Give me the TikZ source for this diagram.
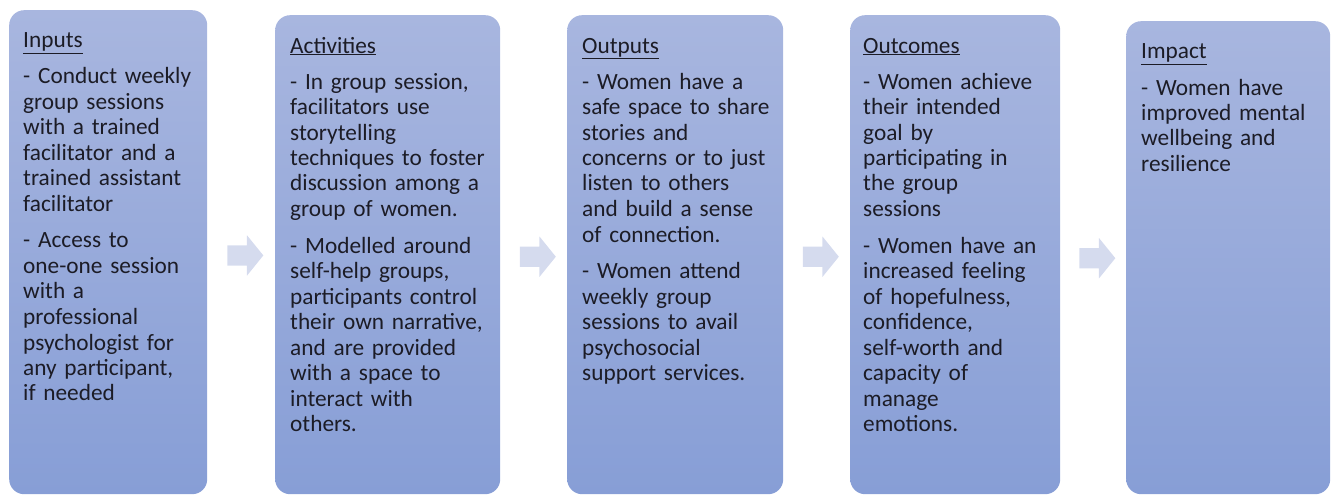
\documentclass[tikz,border=0pt]{standalone}
\usepackage{fontspec}
\setmainfont{Carlito}
\usepackage{tikz}
\usetikzlibrary{positioning,shapes.arrows,calc}

\definecolor{stagetop}{RGB}{168,182,223}
\definecolor{stagebottom}{RGB}{135,158,214}
\definecolor{flowarrow}{RGB}{213,219,238}
\definecolor{stageink}{RGB}{28,28,38}

\begin{document}
\begin{tikzpicture}[
    x=1pt, y=1pt,
    stage/.style={rounded corners=15pt, top color=stagetop, bottom color=stagebottom, anchor=north west, inner sep=0pt},
    stagetext/.style={anchor=base west, align=left, inner sep=0pt, text=stageink, font=\fontsize{23.3}{25.5}\selectfont},
    flow/.style={single arrow, fill=flowarrow, inner sep=10pt, minimum width=40pt, minimum height=36pt, single arrow tip angle=102, single arrow head extend=10pt}
]
\useasboundingbox (0,0) rectangle (1335,-495);

% the five stages
\node[stage, minimum width=198pt, minimum height=484pt] (inputs) at (9,-10) {};
\node[stage, minimum width=225pt, minimum height=479pt] (activities) at (275,-15) {};
\node[stage, minimum width=216pt, minimum height=479pt] (outputs) at (567,-15) {};
\node[stage, minimum width=210pt, minimum height=479pt] (outcomes) at (850,-15) {};
\node[stage, minimum width=204pt, minimum height=473pt] (impact) at (1126,-21) {};

\node[stagetext, text width=180pt] (inputs-txt) at ($(inputs.north west)+(14,-38)$)
{\underline{Inputs}\\[10.5pt]
- Conduct weekly\\ group sessions\\ with a trained\\ facilitator and a\\ trained assistant\\ facilitator\\[11pt]
- Access to\\ one-one session\\ with a\\ professional\\ psychologist for\\ any participant,\\ if needed};

\node[stagetext, text width=205pt] (activities-txt) at ($(activities.north west)+(15,-38)$)
{\underline{Activities}\\[10.5pt]
- In group session,\\ facilitators use\\ storytelling\\ techniques to foster\\ discussion among a\\ group of women.\\[11pt]
- Modelled around\\ self-help groups,\\ participants control\\ their own narrative,\\ and are provided\\ with a space to\\ interact with\\ others.};

\node[stagetext, text width=200pt] (outputs-txt) at ($(outputs.north west)+(15,-38)$)
{\underline{Outputs}\\[10.5pt]
- Women have a\\ safe space to share\\ stories and\\ concerns or to just\\ listen to others\\ and build a sense\\ of connection.\\[11pt]
- Women attend\\ weekly group\\ sessions to avail\\ psychosocial\\ support services.};

\node[stagetext, text width=195pt] (outcomes-txt) at ($(outcomes.north west)+(13,-38)$)
{\underline{Outcomes}\\[10.5pt]
- Women achieve\\ their intended\\ goal by\\ participating in\\ the group\\ sessions\\[11pt]
- Women have an\\ increased feeling\\ of hopefulness,\\ confidence,\\ self-worth and\\ capacity of\\ manage\\ emotions.};

\node[stagetext, text width=190pt] (impact-txt) at ($(impact.north west)+(15,-38)$)
{\underline{Impact}\\[10.5pt]
- Women have\\ improved mental\\ wellbeing and\\ resilience};

% block arrows in the gaps
\node[flow, yshift=-2pt] (a1) at ($(inputs.east)!0.5!(activities.west)$) {};
\node[flow, yshift=-2pt] (a2) at ($(activities.east)!0.5!(outputs.west)$) {};
\node[flow, yshift=-2pt] (a3) at ($(outputs.east)!0.5!(outcomes.west)$) {};
\node[flow, yshift=-2pt] (a4) at ($(outcomes.east)!0.5!(impact.west)$) {};
\end{tikzpicture}
\end{document}
